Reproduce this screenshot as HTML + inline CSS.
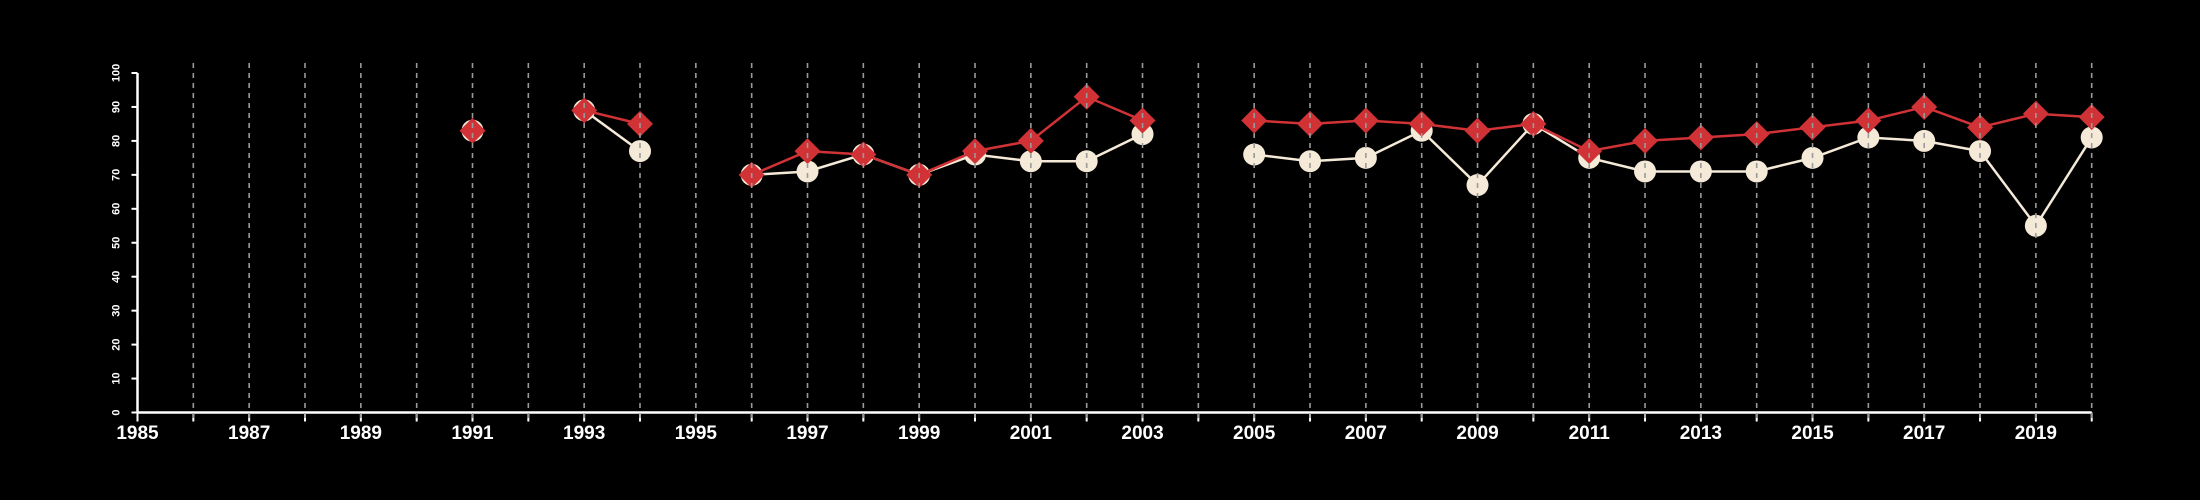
<!DOCTYPE html>
<html><head><meta charset="utf-8"><style>
html,body{margin:0;padding:0;background:#000;}
svg{display:block;font-family:"Liberation Sans",sans-serif;}
</style></head><body>
<svg id="chart" width="2200" height="500"></svg>
<script>
const years=[1985,1986,1987,1988,1989,1990,1991,1992,1993,1994,1995,1996,1997,1998,1999,2000,2001,2002,2003,2004,2005,2006,2007,2008,2009,2010,2011,2012,2013,2014,2015,2016,2017,2018,2019,2020];
const redValues=[null,null,null,null,null,null,83,null,89,85,null,70,77,76,70,77,80,93,86,null,86,85,86,85,83,85,77,80,81,82,84,86,90,84,88,87];
const creamValues=[null,null,null,null,null,null,83,null,89,77,null,70,71,76,70,76,74,74,82,null,76,74,75,83,67,85,75,71,71,71,75,81,80,77,55,81];
const yTicks=[0,10,20,30,40,50,60,70,80,90,100];
const xLabels=[1985,1987,1989,1991,1993,1995,1997,1999,2001,2003,2005,2007,2009,2011,2013,2015,2017,2019];

const svg=document.getElementById('chart');
const NS='http://www.w3.org/2000/svg';
const x0=137.5,x1=2091.7,y0=412.5,y1=73;
const xs=v=>x0+(v-1985)*(x1-x0)/35;
const ys=v=>y0-(v)*(y0-y1)/100;
function mk(t,a){const e=document.createElementNS(NS,t);for(const k in a)e.setAttribute(k,a[k]);svg.appendChild(e);return e;}

let e=mk('line',{x1:x0,y1:y0,x2:x1,y2:y0,stroke:'#fff','stroke-width':2.5});


e=mk('line',{x1:x0,y1:y0,x2:x0,y2:y1,stroke:'#fff','stroke-width':2.5});


yTicks.forEach(t=>{
  const y=ys(t);
  let l=mk('line',{x1:x0-6,y1:y,x2:x0,y2:y,stroke:'#fff','stroke-width':2});
  
  
  let tx=mk('text',{x:0,y:0,fill:'#fff','font-size':11,'font-weight':'bold','text-anchor':'middle',transform:`translate(${x0-21},${y}) rotate(-90)`,'dominant-baseline':'central'});
  tx.textContent=t;
  
  
});
xLabels.forEach(t=>{
  let tx=mk('text',{x:xs(t),y:439,fill:'#fff','font-size':19,'font-weight':'bold','text-anchor':'middle'});
  tx.textContent=t;
  
  
});
years.forEach(yr=>{
  let l=mk('line',{x1:xs(yr),y1:y0,x2:xs(yr),y2:y0+9,stroke:'#fff','stroke-width':2});
  
  
});

function series(vals,color,name,shape){
  let seg=[];
  const flush=()=>{if(seg.length>1){let p=mk('polyline',{points:seg.join(' '),fill:'none',stroke:color,'stroke-width':2.5});
    
    }seg=[];};
  vals.forEach((v,i)=>{if(v==null){flush();return;}seg.push(xs(years[i])+','+ys(v));});
  flush();
  vals.forEach((v,i)=>{if(v==null)return;const cx=xs(years[i]),cy=ys(v);let m;
    if(shape==='circle')m=mk('circle',{cx:cx,cy:cy,r:11,fill:color});
    else m=mk('polygon',{points:`${cx},${cy-13} ${cx+13},${cy} ${cx},${cy+13} ${cx-13},${cy}`,fill:color});
    
    });
}
series(creamValues,'#f5ead8','cream-series','circle');
series(redValues,'#d03236','red-series','diamond');

years.slice(1).forEach(yr=>{
  let l=mk('line',{x1:xs(yr),y1:63,x2:xs(yr),y2:422,stroke:'#9a9a9a','stroke-width':1.6,'stroke-dasharray':'5,5'});
  
  
});
</script>
</body></html>
